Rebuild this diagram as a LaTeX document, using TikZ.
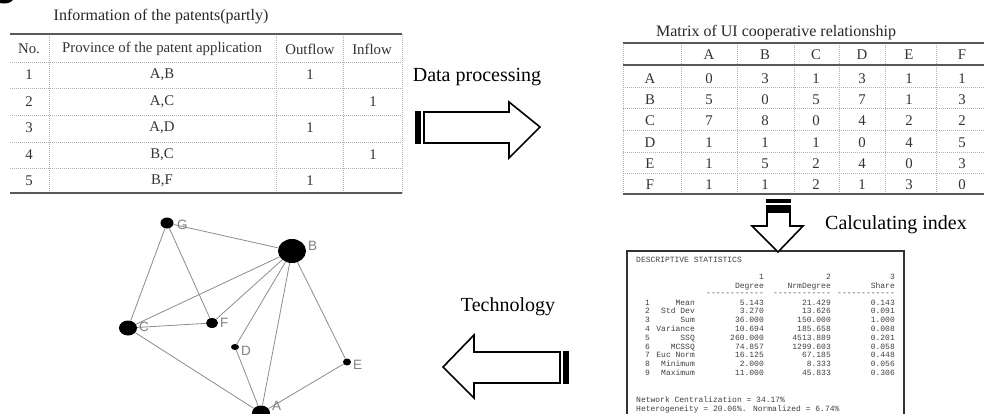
\documentclass[tikz,border=0pt]{standalone}
\usepackage{fontspec}
\setmainfont{Liberation Serif}
\newfontfamily\statfont{Liberation Mono}
\newfontfamily\graphfont{Liberation Sans}
\usetikzlibrary{shapes.geometric}

\tikzset{
  rule/.style={draw=black!65, line width=1.3pt},
  gridline/.style={draw=black!30, line width=0.5pt, dash pattern=on 1pt off 1pt},
  cell/.style={font=\fontsize{14.8}{16}\selectfont, text=black!80, inner sep=0pt},
  caption/.style={font=\fontsize{16}{18}\selectfont, text=black!85, inner sep=0pt},
  steplabel/.style={font=\fontsize{20}{22}\selectfont, text=black, inner sep=0pt},
  blockarrow/.style={draw=black, line width=1.6pt, fill=white, line join=miter},
  stattext/.style={font=\statfont\fontsize{8}{9}\selectfont, text=black!75, inner sep=0pt},
  vertex/.style={ellipse, fill=black, inner sep=0pt},
  tie/.style={draw=black!45, line width=0.8pt},
  vlabel/.style={font=\graphfont\fontsize{13.5}{15}\selectfont, text=black!50, inner sep=0pt, anchor=west},
}

\begin{document}
\begin{tikzpicture}[x=1pt, y=-1pt]
\useasboundingbox (0,0) rectangle (984,414);

% stray mark in the corner
\fill[black] (4,-1) ellipse [x radius=9, y radius=4.5];

% ---------- patent table ----------
\node[caption] (cap1) at (161,17) {Information of the patents(partly)};
\foreach \y in {62,88,115,142,168}
  \draw[gridline] (10,\y) -- (402,\y);
\foreach \x in {49,276,343,402}
  \draw[gridline] (\x,34) -- (\x,193);
\draw[rule] (10,34) -- (402,34);
\draw[rule] (10,193) -- (402,193);

\node[cell] (h1) at (29,49) {No.};
\node[cell] (h2) at (162,49) {Province of the patent application};
\node[cell] (h3) at (310,49) {Outflow};
\node[cell] (h4) at (372,49) {Inflow};
\foreach \n/\p/\o/\f [count=\i] in {1/{A,B}/1/, 2/{A,C}//1, 3/{A,D}/1/, 4/{B,C}//1, 5/{B,F}/1/}{
  \pgfmathsetmacro{\yy}{75+26.5*(\i-1)}
  \node[cell] (no\i) at (29,\yy) {\n};
  \node[cell] (pr\i) at (162,\yy) {\p};
  \node[cell] (of\i) at (310,\yy) {\o};
  \node[cell] (if\i) at (373,\yy) {\f};
}

% ---------- matrix table ----------
\node[caption] (cap2) at (776,33) {Matrix of UI cooperative relationship};
\foreach \y in {87,108,130,152,173}
  \draw[gridline] (623,\y) -- (984,\y);
\foreach \x in {623,681,737,794,839,885,936}
  \draw[gridline] (\x,43) -- (\x,194);
\draw[rule] (623,43) -- (984,43);
\draw[rule] (623,65) -- (984,65);
\draw[rule] (623,194) -- (984,194);

\foreach \c/\x in {A/709,B/765,C/816,D/862,E/909,F/962}
  \node[cell] (col\c) at (\x,55) {\c};
\foreach \r/\y/\va/\vb/\vc/\vd/\ve/\vf in {
    A/79/0/3/1/3/1/1,
    B/100/5/0/5/7/1/3,
    C/121/7/8/0/4/2/2,
    D/143/1/1/1/0/4/5,
    E/164/1/5/2/4/0/3,
    F/185/1/1/2/1/3/0}{
  \node[cell] (row\r) at (650,\y) {\r};
  \node[cell] (m\r A) at (709,\y) {\va};
  \node[cell] (m\r B) at (765,\y) {\vb};
  \node[cell] (m\r C) at (816,\y) {\vc};
  \node[cell] (m\r D) at (862,\y) {\vd};
  \node[cell] (m\r E) at (909,\y) {\ve};
  \node[cell] (m\r F) at (962,\y) {\vf};
}

% ---------- step labels ----------
\node[steplabel] (lab1) at (477,77) {Data processing};
\node[steplabel] (lab2) at (896,225) {Calculating index};
\node[steplabel] (lab3) at (508,307) {Technology};

% ---------- block arrows ----------
% right
\fill[black] (415,111) rectangle (421,144);
\draw[blockarrow] (424,112) -- (509,112) -- (509,102) -- (540,127) -- (509,158) -- (509,143) -- (424,143) -- cycle;
% left
\fill[black] (563,351) rectangle (569,384);
\draw[blockarrow] (560,352) -- (474,352) -- (474,335) -- (443,367) -- (474,398) -- (474,383) -- (560,383) -- cycle;

% ---------- statistics panel ----------
\draw[draw=black!80, line width=1.4pt, fill=white] (627,251) rectangle (904,430);
% down arrow onto the panel
\fill[black] (766,199) rectangle (791,202.5);
\fill[black] (766,204.5) rectangle (791,211);
\draw[blockarrow] (767,212) -- (790,212) -- (790,226) -- (803,226) -- (778,252) -- (752,226) -- (767,226) -- cycle;

\node[stattext, anchor=base west] (st0) at (636,262) {DESCRIPTIVE STATISTICS};
\node[stattext, anchor=base east] (c1n) at (764,279) {1};
\node[stattext, anchor=base east] (c2n) at (831,279) {2};
\node[stattext, anchor=base east] (c3n) at (895,279) {3};
\node[stattext, anchor=base east] (c1h) at (764,288) {Degree};
\node[stattext, anchor=base east] (c2h) at (831,288) {NrmDegree};
\node[stattext, anchor=base east] (c3h) at (895,288) {Share};
\node[stattext, anchor=base east] (c1d) at (764,295) {------------};
\node[stattext, anchor=base east] (c2d) at (831,295) {------------};
\node[stattext, anchor=base east] (c3d) at (895,295) {------------};
\foreach \n/\lab/\a/\b/\c in {
    1/Mean/5.143/21.429/0.143,
    2/Std Dev/3.270/13.626/0.091,
    3/Sum/36.000/150.000/1.000,
    4/Variance/10.694/185.658/0.008,
    5/SSQ/260.000/4513.889/0.201,
    6/MCSSQ/74.857/1299.603/0.058,
    7/Euc Norm/16.125/67.185/0.448,
    8/Minimum/2.000/8.333/0.056,
    9/Maximum/11.000/45.833/0.306}{
  \pgfmathsetmacro{\yy}{305+8.8*(\n-1)}
  \node[stattext, anchor=base west] (sn\n) at (645,\yy) {\n};
  \node[stattext, anchor=base east] (sl\n) at (695,\yy) {\lab};
  \node[stattext, anchor=base east] (sa\n) at (764,\yy) {\a};
  \node[stattext, anchor=base east] (sb\n) at (831,\yy) {\b};
  \node[stattext, anchor=base east] (sc\n) at (895,\yy) {\c};
}
\node[stattext, anchor=base west] (net1) at (636,402) {Network Centralization = 34.17\%};
\node[stattext, anchor=base west] (net2) at (636,411) {Heterogeneity = 20.06\%.  Normalized = 6.74\%};

% ---------- cooperation network ----------
\node[vertex, minimum width=13pt, minimum height=11pt] (G) at (167,223) {};
\node[vertex, minimum width=28pt, minimum height=24pt] (B) at (292,251) {};
\node[vertex, minimum width=18pt, minimum height=15pt] (C) at (128,328) {};
\node[vertex, minimum width=12pt, minimum height=10pt] (F) at (212,323) {};
\node[vertex, minimum width=8pt, minimum height=6pt] (D) at (235,347) {};
\node[vertex, minimum width=8pt, minimum height=7pt] (E) at (347,362) {};
\node[vertex, minimum width=18pt, minimum height=15pt] (A) at (261,413) {};

\foreach \u/\v in {G/B, G/C, G/F, B/C, B/F, B/D, B/A, B/E, C/F, C/A, D/A, E/A}
  \draw[tie] (\u) -- (\v);

\node[vlabel] (lG) at (177,225) {G};
\node[vlabel] (lB) at (308,246) {B};
\node[vlabel] (lC) at (139,327) {C};
\node[vlabel] (lF) at (220,323) {F};
\node[vlabel] (lD) at (241,351) {D};
\node[vlabel] (lE) at (353,365) {E};
\node[vlabel] (lA) at (272,406) {A};
\end{tikzpicture}
\end{document}
